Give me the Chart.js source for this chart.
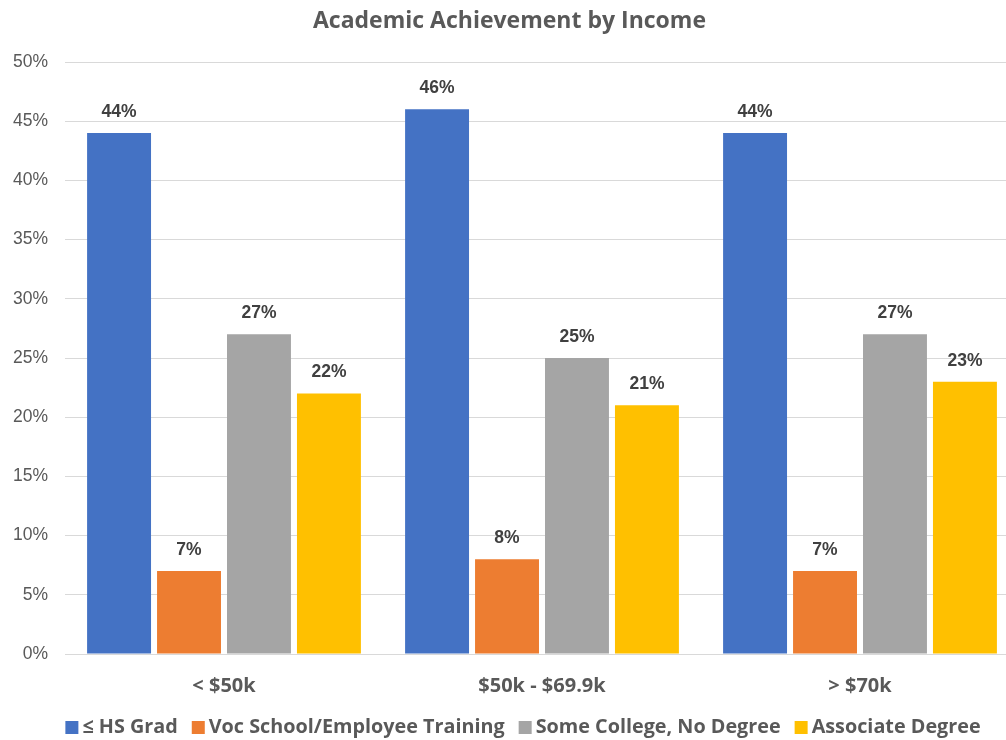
<!DOCTYPE html>
<html lang="en">
<head>
    <meta charset="UTF-8">
    <title>Academic Achievement by Income</title>
    <script src="https://cdn.jsdelivr.net/npm/chart.js"></script>
    <style>
        html, body {
            margin: 0;
            padding: 0;
            background-color: #fff;
            overflow: hidden;
        }
        .chart-box {
            width: 1040px;
            height: 740px;
        }
    </style>
</head>
<body>
    <div class="chart-box">
        <canvas id="incomeChart"></canvas>
    </div>

    <script>
        // income brackets and the share of each achievement level (%)
        const incomeGroups = ['< $50k', '$50k - $69.9k', '> $70k'];
        const hsGrad = [44, 46, 44];
        const vocSchool = [7, 8, 7];
        const someCollege = [27, 25, 27];
        const associate = [22, 21, 23];
        const yTicks = [0, 5, 10, 15, 20, 25, 30, 35, 40, 45, 50];

        const labelFont = '"Open Sans", "Liberation Sans", sans-serif';
        const numFont = '"Liberation Sans", Arial, sans-serif';

        // prints the value above every bar
        const barValues = {
            id: 'barValues',
            afterDatasetsDraw(chart) {
                const ctx = chart.ctx;
                ctx.save();
                ctx.font = 'bold 17.5px ' + numFont;
                ctx.fillStyle = '#404040';
                ctx.textAlign = 'center';
                ctx.textBaseline = 'middle';
                chart.data.datasets.forEach((ds, i) => {
                    chart.getDatasetMeta(i).data.forEach((bar, j) => {
                        ctx.fillText(ds.data[j] + '%', bar.x, bar.y - 21);
                    });
                });
                ctx.restore();
            }
        };

        // legend row along the bottom: small square, short gap, bold label
        const bottomLegend = {
            id: 'bottomLegend',
            afterDraw(chart) {
                const ctx = chart.ctx;
                const box = 13, textGap = 4, itemGap = 14, cy = 727.5;
                ctx.save();
                ctx.font = 'bold 19.8px ' + labelFont;
                ctx.textBaseline = 'middle';
                const items = chart.data.datasets.map(ds => ({
                    text: ds.label,
                    color: ds.backgroundColor,
                    w: box + textGap + ctx.measureText(ds.label).width
                }));
                const total = items.reduce((s, it) => s + it.w, 0) + itemGap * (items.length - 1);
                let x = chart.width / 2 + 3 - total / 2;
                items.forEach(it => {
                    ctx.fillStyle = it.color;
                    ctx.fillRect(x, cy - box / 2, box, box);
                    ctx.fillStyle = '#595959';
                    ctx.fillText(it.text, x + box + textGap, cy);
                    x += it.w + itemGap;
                });
                ctx.restore();
            }
        };

        const ctx = document.getElementById('incomeChart').getContext('2d');
        new Chart(ctx, {
            type: 'bar',
            data: {
                labels: incomeGroups,
                datasets: [
                    { label: '\u2264 HS Grad', data: hsGrad, backgroundColor: '#4472C4' },
                    { label: 'Voc School/Employee Training', data: vocSchool, backgroundColor: '#ED7D31' },
                    { label: 'Some College, No Degree', data: someCollege, backgroundColor: '#A5A5A5' },
                    { label: 'Associate Degree', data: associate, backgroundColor: '#FFC000' }
                ]
            },
            plugins: [barValues, bottomLegend],
            options: {
                responsive: true,
                maintainAspectRatio: false,
                animation: false,
                categoryPercentage: 0.88,
                barPercentage: 0.914,
                layout: { padding: { left: 0, right: 21, top: 0, bottom: 0 } },
                plugins: {
                    title: {
                        display: true,
                        text: 'Academic Achievement by Income',
                        color: '#595959',
                        font: { family: labelFont, size: 23, weight: 'bold', lineHeight: 1.2 },
                        padding: { top: 8, bottom: 26.4 }
                    },
                    legend: { display: false },
                    tooltip: { enabled: false }
                },
                scales: {
                    x: {
                        grid: { display: false, drawTicks: false },
                        border: { display: false },
                        ticks: {
                            color: '#595959',
                            font: { family: labelFont, size: 20, weight: 'bold' },
                            padding: 20
                        },
                        afterFit(scale) { scale.height = 86; }
                    },
                    y: {
                        min: 0,
                        max: 50,
                        afterBuildTicks(scale) {
                            scale.ticks = yTicks.map(v => ({ value: v }));
                        },
                        grid: { color: '#D9D9D9', lineWidth: 1, drawTicks: false },
                        border: { display: false },
                        ticks: {
                            color: '#595959',
                            font: { family: numFont, size: 17.5 },
                            padding: 17,
                            callback: v => v + '%'
                        },
                        afterFit(scale) { scale.width = 65; }
                    }
                }
            }
        });
    </script>
</body>
</html>
